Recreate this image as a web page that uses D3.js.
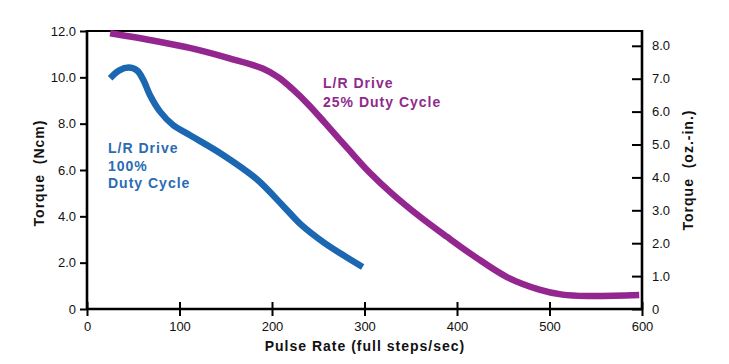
<!DOCTYPE html>
<html><head><meta charset="utf-8">
<script src="https://cdn.jsdelivr.net/npm/d3@7"></script>
<style>
html,body{margin:0;padding:0;background:#fff;}
text{font-family:"Liberation Sans",Arial,Helvetica,sans-serif;}
</style></head>
<body><svg id="chart" width="729" height="364"></svg>
<script>
// Data
const xTicks = [0,100,200,300,400,500,600];
const leftTicks = [0,2,4,6,8,10,12];
const leftTickLabels = ["0","2.0","4.0","6.0","8.0","10.0","12.0"];
const rightTicks = [0,1,2,3,4,5,6,7,8];
const rightTickLabels = ["0","1.0","2.0","3.0","4.0","5.0","6.0","7.0","8.0"];

const blueX = [25,35,45,54,61,68,79,93,111,147,183,212,232,255,276,298];
const blueY = [9.96,10.3,10.42,10.3,9.88,9.24,8.52,7.94,7.51,6.65,5.62,4.45,3.62,2.9,2.35,1.81];

const purpleX = [25,75,111,154,190,207,222,240,258,282,306,330,360,389,420,454,489,514,543,597];
const purpleY = [11.9,11.56,11.27,10.82,10.38,10.0,9.5,8.8,8.0,6.92,5.87,4.97,3.98,3.12,2.24,1.38,0.84,0.62,0.56,0.6];

const blueLabel = ["L/R Drive","100%","Duty Cycle"];
const purpleLabel = ["L/R Drive","25% Duty Cycle"];

const svg = d3.select("#chart");
const x0 = 87, x1 = 642, yTop = 31, yBot = 309;
const x = d3.scaleLinear().domain([0,600]).range([x0,x1]);
const yL = d3.scaleLinear().domain([0,12]).range([yBot,yTop]);
const yR = d3.scaleLinear().domain([0,8.45]).range([yBot,yTop]);

// top border
svg.append("line").attr("x1",x0).attr("x2",x1).attr("y1",yTop).attr("y2",yTop)
  .attr("stroke","#000").attr("stroke-width",2);

// curves
const line = d3.line().x(d=>x(d[0])).y(d=>yL(d[1])).curve(d3.curveCatmullRom.alpha(0.5));
svg.append("path").datum(purpleX.map((v,i)=>[v,purpleY[i]]))
  .attr("d",line).attr("fill","none").attr("stroke","#93278f").attr("stroke-width",6.5).attr("stroke-linecap","butt");
svg.append("path").datum(blueX.map((v,i)=>[v,blueY[i]]))
  .attr("d",line).attr("fill","none").attr("stroke","#1c67b1").attr("stroke-width",6.5).attr("stroke-linecap","butt");

// left axis
const gl = svg.append("g").attr("transform",`translate(${x0},0)`)
  .call(d3.axisLeft(yL).tickValues(leftTicks).tickFormat((d,i)=>leftTickLabels[i]).tickSize(7).tickPadding(4).tickSizeOuter(0));
// bottom axis
const gb = svg.append("g").attr("transform",`translate(0,${yBot})`)
  .call(d3.axisBottom(x).tickValues(xTicks).tickSize(7).tickPadding(6).tickSizeOuter(0));
gb.selectAll(".tick line").attr("y1",-7);
// right axis
const gr = svg.append("g").attr("transform",`translate(${x1},0)`)
  .call(d3.axisRight(yR).tickValues(rightTicks).tickFormat((d,i)=>rightTickLabels[i]).tickSize(1).tickPadding(9).tickSizeOuter(0));
gr.selectAll(".tick line").attr("x1",-10).attr("x2",1);

[gl,gb,gr].forEach(g=>{
  g.select(".domain").attr("stroke","#000").attr("stroke-width",2.6);
  g.selectAll(".tick line").attr("stroke","#000").attr("stroke-width",2);
  g.selectAll(".tick text").attr("fill","#111").style("font-size","13px").style("font-family","'Liberation Sans',Arial,sans-serif");
});
gl.select(".domain").attr("d",`M0,${yTop-1}V${yBot+1}`);
gr.select(".domain").attr("d",`M0,${yTop-1}V${yBot+1}`);
gb.select(".domain").attr("d",`M${x0},0H${x1}`);

// axis titles
svg.append("text").attr("transform",`translate(44,173) rotate(-90)`).attr("text-anchor","middle")
  .style("font-size","14px").style("font-weight","bold").style("letter-spacing","1px").attr("fill","#111")
  .text("Torque\u00a0\u00a0(Ncm)");
svg.append("text").attr("transform",`translate(693,170) rotate(-90)`).attr("text-anchor","middle")
  .style("font-size","14px").style("font-weight","bold").style("letter-spacing","1px").attr("fill","#111")
  .text("Torque\u00a0\u00a0(oz.-in.)");
svg.append("text").attr("x",365).attr("y",351).attr("text-anchor","middle")
  .style("font-size","14px").style("font-weight","bold").style("letter-spacing","1px").attr("fill","#111")
  .text("Pulse Rate (full steps/sec)");

// curve labels
const bl = svg.append("text").attr("fill","#2a6cb3").style("font-size","14px").style("font-weight","bold").style("letter-spacing","1px");
blueLabel.forEach((t,i)=>bl.append("tspan").attr("x",108).attr("y",153+i*17.5).text(t));
const pl = svg.append("text").attr("fill","#8f2a8c").style("font-size","14px").style("font-weight","bold").style("letter-spacing","1px");
purpleLabel.forEach((t,i)=>pl.append("tspan").attr("x",323).attr("y",88+i*19).text(t));
</script></body></html>
